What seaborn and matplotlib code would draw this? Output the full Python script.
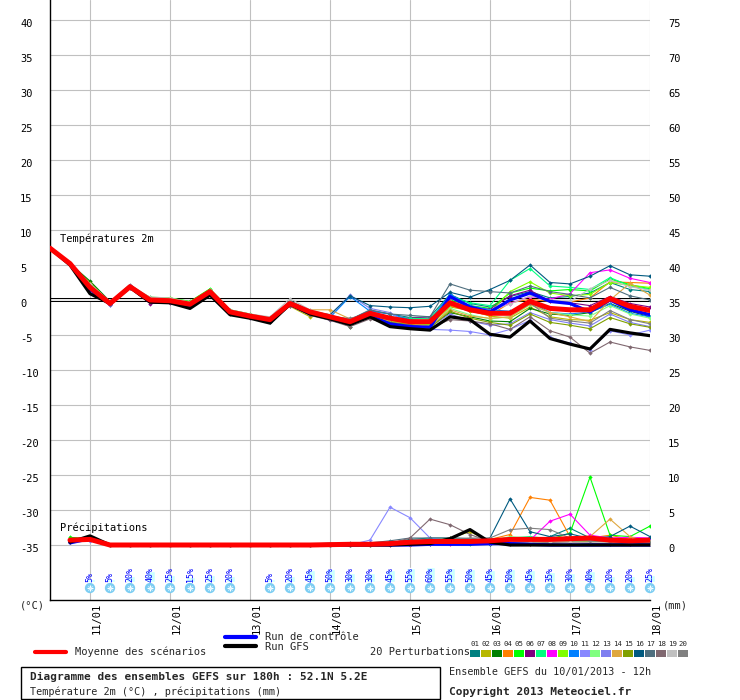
import numpy as np
import pandas as pd
import matplotlib
matplotlib.use("Agg")
import matplotlib.pyplot as plt
import seaborn as sns
from matplotlib.lines import Line2D
from matplotlib.patches import Rectangle
from matplotlib.transforms import ScaledTranslation

# ---------------- data ----------------
hours_t = list(range(0, 181, 6))          # temperature time steps (h after 10/01 12h)
hours_p = list(range(6, 181, 6))          # precipitation time steps
day_hours = [12, 36, 60, 84, 108, 132, 156, 180]
day_labels = ["11/01", "12/01", "13/01", "14/01", "15/01", "16/01", "17/01", "18/01"]
temp_ticks = list(range(-35, 41, 5))
precip_ticks = list(range(0, 76, 5))

temp_mean = [7.4, 5.2, 1.8, -0.5, 1.9, 0.0, -0.1, -0.6, 1.2, -1.7, -2.3, -2.8, -0.5, -1.7, -2.4, -3.1,
             -1.9, -2.6, -3.1, -3.1, -0.4, -1.4, -1.9, -1.9, -0.2, -1.2, -1.4, -1.4, 0.2, -0.9, -1.5]
temp_gfs = [7.4, 5.0, 0.9, -0.5, 1.8, -0.3, -0.4, -1.2, 0.7, -2.1, -2.6, -3.3, -0.6, -2.0, -2.7, -3.5,
            -2.4, -3.8, -4.1, -4.3, -2.4, -2.8, -4.9, -5.3, -3.0, -5.5, -6.3, -7.0, -4.2, -4.7, -5.1]
temp_ctrl = [7.4, 5.1, 1.5, -0.6, 2.0, -0.1, -0.2, -0.8, 1.0, -1.8, -2.4, -3.0, -0.6, -1.9, -2.6, -3.4,
             -2.3, -3.4, -3.8, -3.9, 0.5, -1.0, -1.7, 0.0, 1.0, -0.2, -0.5, -1.7, 0.0, -1.4, -2.1]

temp_members = {
    "01": [7.4, 5.2, 2.2, -0.4, 2.0, 0.3, 0.2, -0.3, 1.0, -1.5, -2.2, -2.7, -0.3, -1.6, -2.3, -2.8, -1.5, -2.0, -2.5, -2.4, 0.8, -0.5, -1.0, 0.5, 1.2, 0.3, 0.5, 1.0, 2.5, 1.5, 1.2],
    "02": [7.5, 5.3, 2.5, -0.3, 2.2, 0.2, 0.3, -0.4, 1.4, -1.6, -2.2, -2.5, -0.9, -2.4, -2.1, -3.3, -2.6, -3.4, -3.4, -3.6, -1.0, -1.5, -2.3, -2.6, -1.0, -2.4, -2.8, -2.9, -1.8, -2.8, -3.2],
    "03": [7.4, 5.2, 2.7, -0.2, 1.8, 0.3, 0.1, -0.5, 1.3, -1.6, -2.3, -2.9, -0.4, -1.9, -2.6, -3.8, -2.0, -3.0, -3.3, -3.8, -1.8, -2.4, -3.0, -3.1, -1.2, -2.0, -2.2, -1.8, -0.5, -1.6, -2.4],
    "04": [7.4, 5.2, 2.0, -0.5, 1.9, 0.1, 0.0, -0.6, 1.2, -1.7, -2.3, -2.8, -0.5, -1.8, -2.5, -3.3, -2.2, -3.0, -3.6, -3.4, -0.8, -1.6, -2.2, -0.4, 0.1, -0.2, -0.3, 0.3, 2.6, 2.5, 2.4],
    "05": [7.4, 5.3, 2.2, -0.3, 1.9, 0.4, 0.3, -0.2, 1.6, -1.4, -2.0, -2.6, -0.6, -1.9, -2.7, -3.4, -2.3, -2.9, -3.2, -3.4, 0.0, -0.8, -1.2, 1.0, 1.7, 1.3, 1.5, 1.3, 3.0, 2.2, 1.6],
    "06": [7.4, 5.2, 1.6, -0.7, 1.7, -0.5, -0.4, -0.8, 0.9, -1.9, -2.4, -2.9, -0.7, -2.0, -2.7, -3.4, -2.3, -2.8, -2.5, -2.6, -0.5, -1.2, -1.3, 0.6, 1.4, -0.2, -0.4, -0.8, 0.5, -0.5, -1.0],
    "07": [7.4, 5.2, 2.0, -0.4, 1.9, 0.2, 0.2, -0.4, 1.3, -1.6, -2.2, -3.1, -0.6, -2.0, -2.6, -3.2, -1.8, -2.4, -2.6, -2.7, 0.6, -0.4, -0.8, 2.8, 4.5, 2.0, 1.8, 1.5, 3.2, 2.0, 1.5],
    "08": [7.4, 5.1, 1.7, -0.6, 1.8, -0.2, -0.3, -0.7, 1.1, -1.8, -2.4, -2.9, -0.5, -1.8, -2.5, -3.3, -2.1, -2.9, -3.3, -3.5, -0.3, -1.2, -1.6, -0.5, 0.5, 0.1, 0.9, 3.9, 4.3, 3.1, 2.5],
    "09": [7.4, 5.3, 2.3, -0.3, 2.0, 0.3, 0.3, -0.3, 1.5, -1.5, -2.1, -2.7, -0.5, -1.8, -2.6, -3.3, -2.4, -3.0, -3.4, -3.5, -0.6, -1.5, -1.8, 1.2, 2.6, 1.0, 0.6, 0.8, 2.5, 2.1, 1.8],
    "10": [7.4, 5.2, 1.8, -0.5, 1.9, 0.0, -0.1, -0.6, 1.1, -1.8, -2.4, -2.9, -0.8, -2.0, -2.5, 0.5, -1.6, -2.0, -2.8, -3.0, 0.8, -0.8, -1.4, -1.6, -0.3, -1.8, -2.0, -1.7, -0.6, -1.9, -2.4],
    "11": [7.4, 5.1, 1.5, -0.7, 2.1, -0.2, -0.3, -0.8, 0.8, -1.9, -2.6, -3.2, -0.7, -2.0, -2.9, -3.6, -2.5, -3.6, -3.9, -4.2, -4.3, -4.5, -5.0, -4.2, -2.9, -5.3, -6.2, -7.1, -4.4, -5.0, -4.3],
    "12": [7.4, 5.2, 2.1, -0.4, 1.9, 0.1, 0.0, -0.6, 1.2, -1.7, -2.2, -2.7, -0.6, -2.0, -2.6, -3.5, -2.4, -3.4, -3.7, -3.9, -1.2, -2.1, -2.7, -2.4, -0.7, -1.8, -2.1, -2.3, -0.8, -2.0, -2.6],
    "13": [7.4, 5.2, 1.7, -0.6, 1.8, -0.1, -0.2, -0.7, 1.0, -1.8, -2.4, -3.0, -0.6, -1.8, -2.2, 0.7, -1.2, -1.8, -3.5, -3.8, -2.0, -3.0, -3.6, -3.4, -1.8, -2.8, -3.3, -3.7, -2.0, -3.2, -3.8],
    "14": [7.4, 5.2, 2.2, -0.3, 1.8, 0.2, 0.1, -0.5, 1.2, -1.7, -2.3, -2.8, -0.9, -1.4, -1.4, -2.7, -2.2, -3.1, -3.4, -3.8, -1.4, -2.3, -2.6, -2.4, -0.6, -1.8, -2.4, -3.1, 0.0, 2.4, 0.7],
    "15": [7.4, 5.2, 2.4, -0.4, 1.9, 0.2, 0.1, -0.5, 1.3, -1.6, -2.3, -2.9, -0.6, -2.0, -2.6, -3.3, -2.4, -3.2, -3.5, -4.0, -1.6, -2.6, -3.2, -3.6, -2.0, -3.2, -3.6, -4.1, -2.5, -3.4, -3.9],
    "16": [7.4, 5.2, 2.0, -0.5, 2.0, 0.1, 0.0, -0.5, 1.1, -1.7, -2.3, -2.9, -0.4, -1.6, -2.1, 0.6, -0.8, -1.0, -1.1, -0.9, 1.1, 0.4, 1.5, 2.8, 5.0, 2.5, 2.3, 3.4, 4.9, 3.6, 3.4],
    "17": [7.4, 5.2, 1.9, -0.5, 1.8, 0.0, -0.1, -0.6, 1.2, -1.7, -2.3, -2.8, -0.1, -1.5, -2.2, -2.8, -1.4, -2.0, -2.2, -2.4, 2.3, 1.4, 1.2, 1.0, 2.0, 1.2, 0.8, 0.3, 1.8, 0.6, 0.0],
    "18": [7.4, 5.2, 1.8, -0.6, 1.7, -0.3, -0.3, -0.8, 0.9, -2.0, -2.6, -3.2, -0.8, -2.2, -2.9, -3.8, -2.7, -3.5, -3.6, -4.0, -2.8, -3.0, -3.4, -4.2, -2.4, -4.4, -5.3, -7.6, -6.0, -6.7, -7.2],
    "19": [7.4, 5.3, 2.3, -0.2, 2.1, 0.4, 0.3, -0.3, 1.4, -1.4, -2.0, -2.4, 0.2, -1.4, -2.2, -2.9, -2.0, -2.7, -3.0, -3.2, -0.2, -1.0, -1.5, -0.6, 0.6, 0.0, -0.2, 1.6, 2.8, 1.9, 1.4],
    "20": [7.4, 5.2, 2.0, -0.4, 1.9, 0.1, 0.0, -0.6, 1.2, -1.6, -2.3, -2.8, -0.3, -1.7, -2.5, -2.6, -2.0, -2.5, -3.0, -3.2, 0.3, -1.0, -1.7, -1.8, -0.4, -2.6, -3.0, -3.3, -1.5, -2.8, -3.4],
}

precip_mean = [0.7, 0.8, 0, 0, 0, 0, 0, 0, 0, 0, 0, 0, 0, 0.05, 0.1, 0.1, 0.2, 0.4, 0.5, 0.5,
               0.5, 0.6, 0.8, 0.8, 0.8, 0.9, 1.0, 0.7, 0.6, 0.7]
precip_gfs = [0.4, 1.3, 0, 0, 0, 0, 0, 0, 0, 0, 0, 0, 0, 0.1, 0, 0, 0, 0.1, 0.2, 0.9,
              2.2, 0.4, 0, 0, 0, 0, 0, 0, 0, 0]
precip_ctrl = [0.3, 0.9, 0, 0, 0, 0, 0, 0, 0, 0, 0, 0, 0, 0, 0, 0, 0, 0, 0.1, 0.1,
               0.1, 0.2, 0.2, 0.1, 0, 0, 0, 0, 0, 0]
precip_members = {
    "01": [0.6, 0.9, 0, 0, 0, 0, 0, 0, 0, 0, 0, 0, 0, 0, 0, 0.2, 0.3, 0.8, 1.0, 1.0, 0.9, 0.6, 0.4, 0.5, 1.2, 2.4, 1.0, 0.6, 0.5, 0.4],
    "02": [0.5, 0.8, 0, 0, 0, 0, 0, 0, 0, 0, 0, 0, 0, 0, 0, 0, 0.2, 0.5, 0.6, 1.0, 1.9, 0.5, 0.2, 0.1, 0.3, 0.4, 0.3, 0.2, 0.2, 0.1],
    "03": [0.7, 1.0, 0, 0, 0, 0, 0, 0, 0, 0, 0, 0, 0, 0, 0, 0, 0.1, 0.2, 0.3, 0.4, 0.4, 0.2, 0.3, 0.4, 0.5, 0.4, 0.6, 0.3, 0.2, 0.3],
    "04": [0.6, 0.8, 0, 0, 0, 0, 0, 0, 0, 0, 0, 0, 0, 0, 0, 0, 0, 0, 0.1, 0.2, 0.3, 0.8, 1.5, 6.8, 6.4, 1.2, 1.0, 1.4, 0.8, 0.4],
    "05": [1.1, 0.9, 0, 0, 0, 0, 0, 0, 0, 0, 0, 0, 0, 0, 0, 0, 0, 0.1, 0.2, 0.3, 0.2, 0.4, 0.5, 0.6, 0.8, 1.7, 9.7, 1.4, 1.2, 2.7],
    "06": [0.5, 0.7, 0, 0, 0, 0, 0, 0, 0, 0, 0, 0, 0, 0, 0, 0, 0.1, 0.2, 0.3, 0.3, 0.3, 0.2, 0.3, 0.2, 0.4, 0.4, 0.4, 0.3, 0.3, 0.2],
    "07": [0.6, 0.8, 0, 0, 0, 0, 0, 0, 0, 0, 0, 0, 0, 0, 0, 0, 0.2, 0.3, 0.4, 0.5, 0.6, 0.8, 1.0, 1.2, 0.9, 1.0, 0.8, 0.6, 0.5, 0.4],
    "08": [0.5, 0.7, 0, 0, 0, 0, 0, 0, 0, 0, 0, 0, 0, 0, 0, 0, 0, 0.1, 0.2, 0.2, 0.3, 0.4, 0.5, 0.7, 3.4, 4.4, 1.4, 1.0, 1.1, 1.0],
    "09": [0.6, 0.9, 0, 0, 0, 0, 0, 0, 0, 0, 0, 0, 0, 0, 0, 0, 0.1, 0.2, 0.3, 0.4, 0.8, 0.5, 0.4, 0.3, 0.4, 0.5, 0.4, 0.3, 0.4, 0.3],
    "10": [0.7, 0.8, 0, 0, 0, 0, 0, 0, 0, 0, 0, 0, 0, 0, 0, 0, 0.1, 0.1, 0.2, 0.3, 0.3, 0.2, 0.2, 0.3, 0.3, 0.4, 0.3, 0.2, 0.2, 0.2],
    "11": [0.4, 0.6, 0, 0, 0, 0, 0, 0, 0, 0, 0, 0, 0, 0, 0, 0.7, 5.4, 3.9, 1.0, 0.6, 0.5, 0.4, 0.3, 0.3, 0.4, 0.5, 0.4, 0.3, 0.2, 0.2],
    "12": [0.6, 0.8, 0, 0, 0, 0, 0, 0, 0, 0, 0, 0, 0, 0, 0, 0, 0.1, 0.2, 0.3, 0.4, 0.5, 0.6, 1.2, 1.0, 0.8, 0.6, 0.6, 0.4, 0.4, 0.3],
    "13": [0.5, 0.7, 0, 0, 0, 0, 0, 0, 0, 0, 0, 0, 0, 0, 0, 0.2, 0.3, 0.4, 0.3, 0.3, 0.4, 0.3, 0.2, 0.3, 0.3, 0.6, 0.5, 0.3, 0.3, 0.2],
    "14": [0.6, 0.9, 0, 0, 0, 0, 0, 0, 0, 0, 0, 0, 0, 0, 0.1, 0.1, 0.2, 0.2, 0.3, 0.4, 0.6, 0.3, 0.2, 0.3, 0.4, 0.5, 1.2, 3.7, 1.2, 0.4],
    "15": [0.7, 1.0, 0, 0, 0, 0, 0, 0, 0, 0, 0, 0, 0, 0, 0, 0, 0.1, 0.3, 0.4, 0.5, 0.5, 0.4, 0.3, 0.4, 0.5, 0.6, 0.5, 0.4, 0.4, 0.3],
    "16": [0.5, 0.8, 0, 0, 0, 0, 0, 0, 0, 0, 0, 0, 0, 0, 0, 0.1, 0.2, 0.6, 0.8, 0.7, 0.6, 1.0, 6.6, 1.9, 1.2, 1.6, 0.9, 1.2, 2.7, 1.2],
    "17": [0.6, 0.9, 0, 0, 0, 0, 0, 0, 0, 0, 0, 0, 0, 0, 0.3, 0.3, 0.6, 1.0, 1.0, 1.0, 0.9, 0.7, 0.5, 0.6, 0.7, 0.8, 0.6, 0.5, 0.4, 0.3],
    "18": [0.5, 0.8, 0, 0, 0, 0, 0, 0, 0, 0, 0, 0, 0, 0, 0, 0, 0.2, 1.0, 3.7, 2.9, 1.5, 0.5, 0.3, 0.3, 0.4, 0.4, 0.3, 0.2, 0.2, 0.2],
    "19": [0.6, 0.8, 0, 0, 0, 0, 0, 0, 0, 0, 0, 0, 0, 0, 0, 0, 0.1, 0.2, 0.3, 0.5, 0.7, 0.6, 0.5, 0.4, 0.5, 0.4, 0.4, 0.3, 0.3, 0.3],
    "20": [0.6, 0.9, 0, 0, 0, 0, 0, 0, 0, 0, 0, 0, 0, 0, 0, 0, 0.2, 0.5, 0.6, 0.9, 1.0, 1.0, 2.2, 2.4, 2.2, 1.0, 0.6, 0.5, 0.4, 0.3],
}

snow_hours = [12, 18, 24, 30, 36, 42, 48, 54, 66, 72, 78, 84, 90, 96, 102, 108, 114, 120,
              126, 132, 138, 144, 150, 156, 162, 168, 174, 180]
snow_pct = [5, 5, 20, 40, 25, 15, 25, 20, 5, 20, 45, 50, 30, 30, 45, 55, 60, 55,
            50, 45, 50, 45, 35, 30, 40, 20, 20, 25]

member_colors = {
    "01": "#008080", "02": "#b8b800", "03": "#008000", "04": "#ff8000", "05": "#00ff00",
    "06": "#800080", "07": "#00ff80", "08": "#ff00ff", "09": "#80ff00", "10": "#0080ff",
    "11": "#8888ff", "12": "#80ff80", "13": "#7f7ff0", "14": "#dfa73f", "15": "#80a000",
    "16": "#005a80", "17": "#4f6f7f", "18": "#806870", "19": "#c0c0c0", "20": "#808080",
}

# ---------------- figure ----------------
sns.set_theme(style="white")
plt.rcParams["font.family"] = ["DejaVu Sans Mono", "DejaVu Sans"]
plt.rcParams["axes.unicode_minus"] = False

W, H = 740, 700
fig = plt.figure(figsize=(W / 100, H / 100), dpi=100)
fig.patch.set_facecolor("white")


def fx(x):
    return x / W


def fy(y):
    return 1 - y / H


ax = fig.add_axes([fx(50), fy(600), 600 / W, 600 / H])
ylo, yhi = -35 - 55 / 7, 40 + 20 / 7
ax.set_facecolor("white")

# zero line (double black line)
ax.axhline(0, color="black", lw=2.9, zorder=1.5)
ax.axhline(0, color="white", lw=1.3, zorder=1.6)

# perturbation temperatures
df_t = pd.DataFrame([(m, h, v) for m, vals in temp_members.items() for h, v in zip(hours_t, vals)],
                    columns=["member", "hour", "temp"])
sns.lineplot(data=df_t, x="hour", y="temp", hue="member", palette=member_colors,
             estimator=None, sort=False, legend=False, lw=0.8, marker="D",
             markersize=2.2, markeredgewidth=0, ax=ax, zorder=3)
sns.lineplot(x=hours_t, y=temp_ctrl, color="#0000ff", lw=2.3, ax=ax, zorder=4)
sns.lineplot(x=hours_t, y=temp_gfs, color="black", lw=2.3, ax=ax, zorder=4.5)
sns.lineplot(x=hours_t, y=temp_mean, color="#ff0000", lw=3.6, ax=ax, zorder=5)

# snow probability
snow_base = -40.3
ax.bar(snow_hours, [(2 + p * 0.22) / 7 for p in snow_pct], bottom=snow_base, width=2.7,
       color="#ccffff", zorder=3, clip_on=False)
for h, p in zip(snow_hours, snow_pct):
    ax.text(h, snow_base, f"{p}%", rotation=90, ha="center", va="bottom",
            color="#0000ff", fontsize=6, clip_on=False, zorder=4)
ax.scatter(snow_hours, [-41.15] * len(snow_hours), s=55, color="#7ccdf2", edgecolor="none",
           zorder=4, clip_on=False)
ax.scatter(snow_hours, [-41.15] * len(snow_hours), s=14, marker="+", color="white",
           linewidths=0.8, zorder=5, clip_on=False)
ax.scatter(snow_hours, [-41.15] * len(snow_hours), s=10, marker="x", color="#d8f4ff",
           linewidths=0.6, zorder=5, clip_on=False)

ax.text(3, 8.7, "Températures 2m", fontsize=7.5, va="center", ha="left", color="black")
ax.text(3, -32.6, "Précipitations", fontsize=7.5, va="center", ha="left", color="black")

ax.set_xlim(0, 180)
ax.set_ylim(ylo, yhi)
ax.set_xticks(day_hours)
ax.set_xticklabels(day_labels)
ax.set_yticks(temp_ticks)
ax.set_yticklabels([str(v) for v in temp_ticks])
ax.grid(True, color="#c0c0c0", lw=0.8)
ax.set_axisbelow(True)
for s in ["top", "right"]:
    ax.spines[s].set_visible(False)
for s in ["left", "bottom"]:
    ax.spines[s].set_color("black")
    ax.spines[s].set_linewidth(1.0)
ax.tick_params(axis="x", length=0, pad=2, labelsize=7.5, labelrotation=90, colors="black")
ax.tick_params(axis="y", length=0, pad=21.6, labelsize=7.5, colors="black")
for lbl in ax.get_yticklabels():
    lbl.set_horizontalalignment("left")
    lbl.set_transform(lbl.get_transform() + ScaledTranslation(0, -0.03, fig.dpi_scale_trans))
for lbl in ax.get_xticklabels():
    lbl.set_transform(lbl.get_transform() + ScaledTranslation(0.065, 0, fig.dpi_scale_trans))
ax.set_xlabel("")
ax.set_ylabel("")

# precipitation axis (right)
ax2 = ax.twinx()
df_p = pd.DataFrame([(m, h, v) for m, vals in precip_members.items() for h, v in zip(hours_p, vals)],
                    columns=["member", "hour", "mm"])
sns.lineplot(data=df_p, x="hour", y="mm", hue="member", palette=member_colors,
             estimator=None, sort=False, legend=False, lw=0.8, marker="D",
             markersize=2.2, markeredgewidth=0, ax=ax2, zorder=3)
sns.lineplot(x=hours_p, y=precip_ctrl, color="#0000ff", lw=2.3, ax=ax2, zorder=4)
sns.lineplot(x=hours_p, y=precip_gfs, color="black", lw=2.3, ax=ax2, zorder=4.5)
sns.lineplot(x=hours_p, y=precip_mean, color="#ff0000", lw=3.6, ax=ax2, zorder=5)
ax2.set_xlim(0, 180)
ax2.set_ylim(ylo + 35, yhi + 35)
ax2.set_yticks(precip_ticks)
ax2.set_yticklabels([str(v) for v in precip_ticks])
for s in ax2.spines.values():
    s.set_visible(False)
ax2.tick_params(axis="y", length=0, pad=13, labelsize=7.5, colors="black")
for lbl in ax2.get_yticklabels():
    lbl.set_transform(lbl.get_transform() + ScaledTranslation(0, -0.03, fig.dpi_scale_trans))
ax2.grid(False)
ax2.set_ylabel("")
ax2.set_xlabel("")
ax.set_xlabel("")

# axis unit labels
fig.text(fx(20), fy(606), "(°C)", fontsize=7.5, va="center", ha="left")
fig.text(fx(663), fy(606), "(mm)", fontsize=7.5, va="center", ha="left")

# ---------------- legend ----------------
fig.add_artist(Line2D([fx(35), fx(66)], [fy(652), fy(652)], color="#ff0000", lw=3.0))
fig.text(fx(75), fy(652), "Moyenne des scénarios", fontsize=7.5, va="center", ha="left")
fig.add_artist(Line2D([fx(225), fx(256)], [fy(636.5), fy(636.5)], color="#0000ff", lw=3.0))
fig.text(fx(265), fy(637), "Run de contrôle", fontsize=7.5, va="center", ha="left")
fig.add_artist(Line2D([fx(225), fx(256)], [fy(646), fy(646)], color="black", lw=3.0))
fig.text(fx(265), fy(646.5), "Run GFS", fontsize=7.5, va="center", ha="left")
fig.text(fx(370), fy(652), "20 Perturbations", fontsize=7.5, va="center", ha="left")
for i, (m, c) in enumerate(member_colors.items()):
    x0 = 470 + i * 10.95
    fig.patches.append(Rectangle((fx(x0), fy(656.5)), 10 / W, 6.5 / H, transform=fig.transFigure,
                                 facecolor=c, edgecolor="none", figure=fig))
    fig.text(fx(x0 + 5), fy(644.5), m, fontsize=5.3, va="center", ha="center")

fig.patches.append(Rectangle((fx(20.5), fy(699)), 419.5 / W, 32 / H, transform=fig.transFigure,
                             facecolor="none", edgecolor="black", lw=1.0, figure=fig))
fig.text(fx(30), fy(677), "Diagramme des ensembles GEFS sur 180h : 52.1N 5.2E",
         fontsize=8, fontweight="bold", va="center", ha="left")
fig.text(fx(30), fy(691.5), "Température 2m (°C) , précipitations (mm)",
         fontsize=7.3, va="center", ha="left")
fig.text(fx(449), fy(672), "Ensemble GEFS du 10/01/2013 - 12h", fontsize=7.3, va="center", ha="left")
fig.text(fx(449), fy(692), "Copyright 2013 Meteociel.fr", fontsize=8, fontweight="bold",
         va="center", ha="left")

fig.savefig("out.png", dpi=100, facecolor="white")
